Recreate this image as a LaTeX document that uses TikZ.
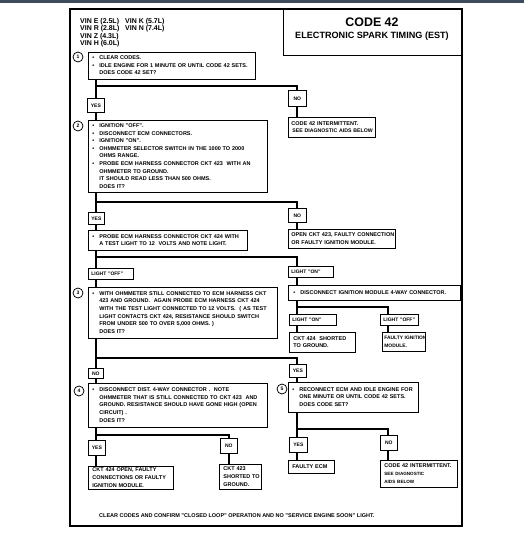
\documentclass[tikz,border=0pt]{standalone}
\usepackage{fontspec}
\setmainfont{Liberation Sans}
\newcommand\bxf{\fontsize{5.5}{7.6}\selectfont\bfseries}
\newcommand\lbf{\fontsize{5}{6}\selectfont\bfseries}
\newcommand\Tb[1]{\begin{tabular}{@{}l@{}}#1\end{tabular}}
\newcommand\Bu{\makebox[7pt][l]{\textbullet}}
\newcommand\Ci{\hspace*{7pt}}
\newcommand\sm{\fontsize{4.6}{6}\selectfont}
\definecolor{topbar}{RGB}{60,76,92}
\begin{document}
\begin{tikzpicture}[x=1pt,y=-1pt,
  conn/.style={line width=1.8pt},
  bx/.style n args={2}{draw,line width=0.75pt,anchor=north west,inner xsep=4pt,inner ysep=0pt,text width=#1pt,minimum height=#2pt,align=left,font=\bxf},
  lb/.style n args={2}{draw,line width=0.75pt,anchor=north west,inner sep=0pt,minimum width=#1pt,minimum height=#2pt,font=\lbf},
  ll/.style n args={2}{draw,line width=0.75pt,anchor=north west,inner xsep=3pt,inner ysep=0pt,text width=#1pt,minimum height=#2pt,align=left,font=\lbf},
  circ/.style={draw,circle,line width=0.75pt,minimum size=10pt,inner sep=0pt,font=\fontsize{5}{6}\selectfont\bfseries},
  vin/.style={anchor=base west,inner sep=0pt,font=\fontsize{7}{8}\selectfont\bfseries}]
\useasboundingbox (0,0) rectangle (524,534);
\fill[white] (0,0) rectangle (524,534);
\fill[topbar] (0,0) rectangle (524,3.5);
% frame and title
\draw[line width=1.3pt] (70,9) rectangle (462,526);
\node[draw,line width=0.75pt,anchor=north west,inner sep=0pt,minimum width=179pt,minimum height=46pt] (tbox) at (283,9) {};
\node[font=\fontsize{12.4}{14}\selectfont\bfseries,inner sep=0pt] (t1) at (372,22) {CODE 42};
\node[font=\fontsize{9.1}{11}\selectfont\bfseries,inner sep=0pt] (t2) at (372,36.5) {ELECTRONIC SPARK TIMING (EST)};
% VIN list
\node[vin] (v1) at (80,23.5) {VIN E (2.5L)};
\node[vin] (v2) at (125,23.5) {VIN K (5.7L)};
\node[vin] (v3) at (80,31) {VIN R (2.8L)};
\node[vin] (v4) at (125,31) {VIN N (7.4L)};
\node[vin] (v5) at (80,38.5) {VIN Z (4.3L)};
\node[vin] (v6) at (80,46) {VIN H (6.0L)};
% circles
\node[circ] (c1) at (78,57) {1};
\node[circ] (c2) at (78,126) {2};
\node[circ] (c3) at (78,293) {3};
\node[circ] (c4) at (79,391) {4};
\node[circ] (c5) at (282,389) {5};
% step 1
\node[bx={159}{27}] (b1) at (88,52) {\Tb{\Bu CLEAR CODES.\\ \Bu IDLE ENGINE FOR 1 MINUTE OR UNTIL CODE 42 SETS.\\ \Ci DOES CODE 42 SET?}};
\node[lb={17}{14}] (yes1) at (87,98) {YES};
\node[lb={18}{16}] (no1) at (288,90) {NO};
\node[bx={81}{20},inner xsep=3pt] (c42a) at (288,117) {\Tb{CODE 42 INTERMITTENT.\\ \hspace*{1pt}{\fontsize{5.2}{7.6}\selectfont SEE DIAGNOSTIC AIDS BELOW}}};
% step 2
\node[bx={171}{72}] (b2) at (88,120) {\Tb{\Bu IGNITION "OFF".\\ \Bu DISCONNECT ECM CONNECTORS.\\ \Bu IGNITION "ON".\\ \Bu OHMMETER SELECTOR SWITCH IN THE 1000 TO 2000\\ \Ci OHMS RANGE.\\ \Bu PROBE ECM HARNESS CONNECTOR CKT 423\ \ WITH AN\\ \Ci OHMMETER TO GROUND.\\ \Ci IT SHOULD READ LESS THAN 500 OHMS.\\ \Ci DOES IT?}};
\node[lb={16}{12}] (yes2) at (88,212) {YES};
\node[lb={18}{14}] (no2) at (288,208) {NO};
\node[bx={151}{20}] (bprobe) at (88,230) {\Tb{\Bu PROBE ECM HARNESS CONNECTOR CKT 424 WITH\\ \Ci A TEST LIGHT TO 12\ \ VOLTS AND NOTE LIGHT.}};
\node[bx={101}{19},inner xsep=3pt] (bopen) at (288,229) {\Tb{OPEN CKT 423, FAULTY CONNECTION\\ OR FAULTY IGNITION MODULE.}};
\node[ll={39}{11}] (loff1) at (88,268) {LIGHT "OFF"};
\node[ll={39}{11}] (lon1) at (288,266) {LIGHT "ON"};
% step 3
\node[bx={181}{51}] (b3) at (88,287) {\Tb{\Bu WITH OHMMETER STILL CONNECTED TO ECM HARNESS CKT\\ \Ci 423 AND GROUND.\ \ AGAIN PROBE ECM HARNESS CKT 424\\ \Ci WITH THE TEST LIGHT CONNECTED TO 12 VOLTS.\ \ ( AS TEST\\ \Ci LIGHT CONTACTS CKT 424, RESISTANCE SHOULD SWITCH\\ \Ci FROM UNDER 500 TO OVER 5,000 OHMS. )\\ \Ci DOES IT?}};
\node[bx={162}{15},inner xsep=5pt] (bdisc) at (288,285) {\Tb{\Bu DISCONNECT IGNITION MODULE 4-WAY CONNECTOR.}};
\node[ll={41}{11}] (lon2) at (289,314) {LIGHT "ON"};
\node[ll={32}{11}] (loff2) at (380,314) {LIGHT "OFF"};
\node[bx={58}{20}] (bshort) at (289,332) {\Tb{CKT 424\ \ SHORTED\\ TO GROUND.}};
\node[bx={39}{19},inner xsep=2pt,font=\fontsize{4.9}{7.6}\selectfont\bfseries] (bfaulty) at (382,332) {\Tb{FAULTY IGNITION\\ MODULE.}};
\node[lb={15}{10}] (no3) at (88,368) {NO};
\node[lb={17}{13}] (yes3) at (289,364) {YES};
% step 4 and 5
\node[bx={171}{44}] (b4) at (88,383) {\Tb{\Bu DISCONNECT DIST. 4-WAY CONNECTOR .\ \ NOTE\\ \Ci OHMMETER THAT IS STILL CONNECTED TO CKT 423\ \ AND\\ \Ci GROUND. RESISTANCE SHOULD HAVE GONE HIGH (OPEN\\ \Ci CIRCUIT) .\\ \Ci DOES IT?}};
\node[bx={122}{30}] (b5) at (288,382) {\Tb{\Bu RECONNECT ECM AND IDLE ENGINE FOR\\ \Ci ONE MINUTE OR UNTIL CODE 42 SETS.\\ \Ci DOES CODE SET?}};
\node[lb={17}{15}] (yes4) at (88,440) {YES};
\node[lb={17}{15}] (no4) at (220,438) {NO};
\node[lb={18}{15}] (yes5) at (289,437) {YES};
\node[lb={17}{15}] (no5) at (380,435) {NO};
% results
\node[bx={77}{23}] (b424) at (88,466) {\Tb{CKT 424 OPEN, FAULTY\\ CONNECTIONS OR FAULTY\\ IGNITION MODULE.}};
\node[bx={34}{25}] (b423) at (219,464) {\Tb{CKT 423\\ SHORTED TO\\ GROUND.}};
\node[bx={38}{13}] (bfecm) at (288,460) {\Tb{FAULTY ECM}};
\node[bx={69}{27}] (c42b) at (380,460) {\Tb{CODE 42 INTERMITTENT.\\ {\sm SEE DIAGNOSTIC}\\ {\sm AIDS BELOW}}};
\node[anchor=west,font=\bxf,inner sep=0pt] (foot) at (99,516) {CLEAR CODES AND CONFIRM "CLOSED LOOP" OPERATION AND NO "SERVICE ENGINE SOON" LIGHT.};
% connectors
\coordinate (j1) at (96,86); \coordinate (k1) at (297,86);
\draw[conn] (b1.south -| j1) -- (yes1.north -| j1);
\draw[conn] (j1) -- (k1) -- (no1.north -| k1);
\draw[conn] (yes1.south -| j1) -- (b2.north -| j1);
\draw[conn] (no1.south -| k1) -- (c42a.north -| k1);
\coordinate (j2) at (96,202); \coordinate (k2) at (297,202);
\draw[conn] (b2.south -| j2) -- (yes2.north -| j2);
\draw[conn] (j2) -- (k2) -- (no2.north -| k2);
\draw[conn] (yes2.south -| j2) -- (bprobe.north -| j2);
\draw[conn] (no2.south -| k2) -- (bopen.north -| k2);
\coordinate (j3) at (96,257); \coordinate (k3) at (297,257);
\draw[conn] (bprobe.south -| j3) -- (loff1.north -| j3);
\draw[conn] (j3) -- (k3) -- (lon1.north -| k3);
\draw[conn] (loff1.south -| j3) -- (b3.north -| j3);
\draw[conn] (lon1.south -| k3) -- (bdisc.north -| k3);
\coordinate (j4) at (297,307); \coordinate (k4) at (388,307);
\draw[conn] (bdisc.south -| j4) -- (lon2.north -| j4);
\draw[conn] (j4) -- (k4) -- (loff2.north -| k4);
\draw[conn] (lon2.south -| j4) -- (bshort.north -| j4);
\draw[conn] (loff2.south -| k4) -- (bfaulty.north -| k4);
\coordinate (j5) at (96,358); \coordinate (k5) at (297,358);
\draw[conn] (b3.south -| j5) -- (no3.north -| j5);
\draw[conn] (j5) -- (k5) -- (yes3.north -| k5);
\draw[conn] (no3.south -| j5) -- (b4.north -| j5);
\draw[conn] (yes3.south -| k5) -- (b5.north -| k5);
\coordinate (j6) at (96,435); \coordinate (k6) at (229,435);
\draw[conn] (b4.south -| j6) -- (yes4.north -| j6);
\draw[conn] (j6) -- (k6) -- (no4.north -| k6);
\draw[conn] (yes4.south -| j6) -- (b424.north -| j6);
\draw[conn] (no4.south -| k6) -- (b423.north -| k6);
\coordinate (j7) at (297,429); \coordinate (k7) at (388,429);
\draw[conn] (b5.south -| j7) -- (yes5.north -| j7);
\draw[conn] (j7) -- (k7) -- (no5.north -| k7);
\draw[conn] (yes5.south -| j7) -- (bfecm.north -| j7);
\draw[conn] (no5.south -| k7) -- (c42b.north -| k7);
\end{tikzpicture}
\end{document}
